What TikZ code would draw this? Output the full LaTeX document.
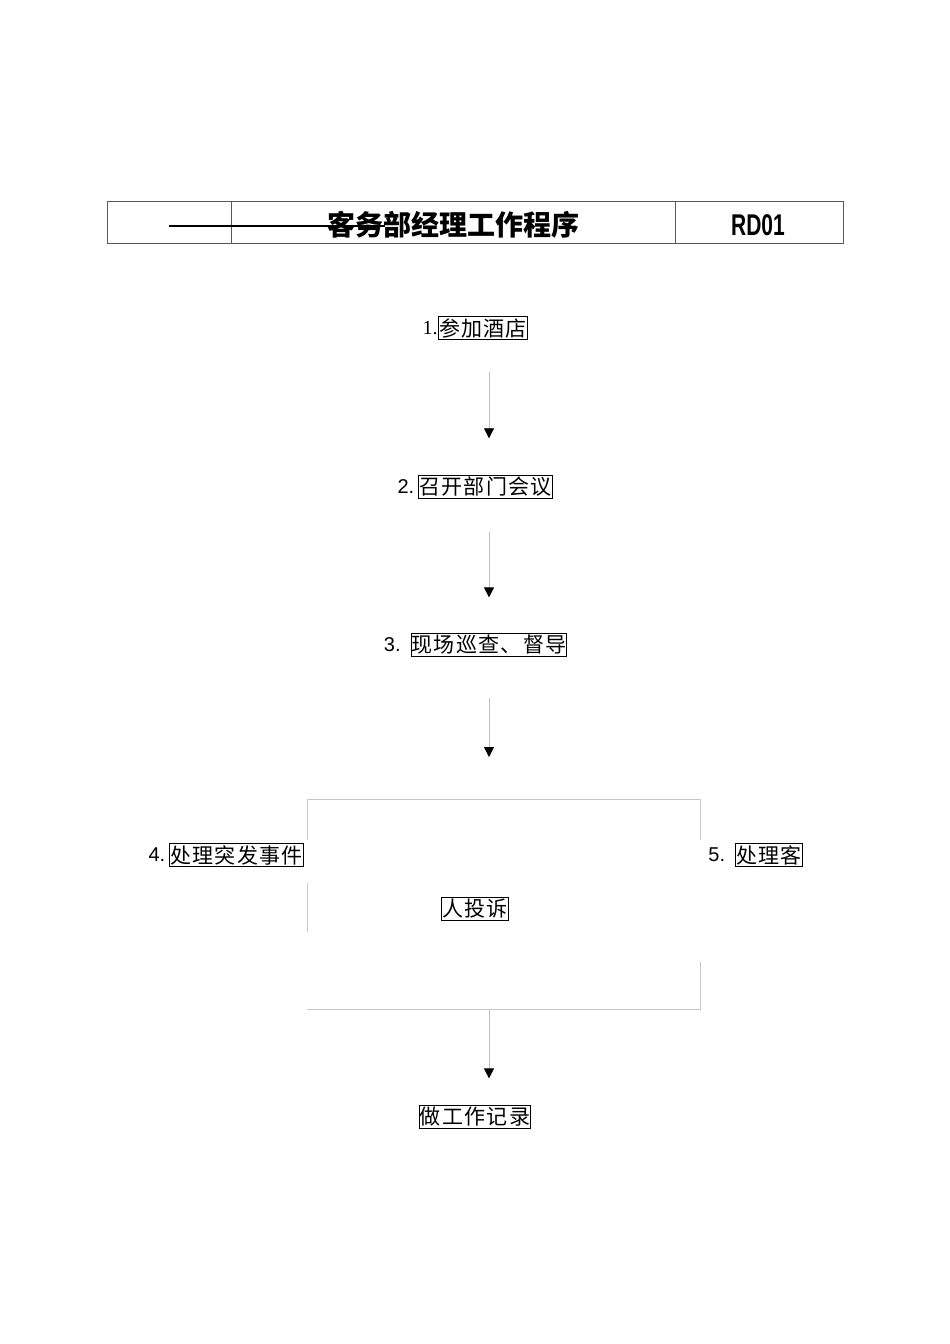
\documentclass[tikz,border=0pt]{standalone}
\usepackage{fontspec}
\setmainfont{Liberation Serif}
\newfontfamily\cjk{Noto Sans CJK SC}
\newfontfamily\cjkwide[LetterSpace=6]{Noto Sans CJK SC}
\newfontfamily\arialfont{Liberation Sans}
\newfontfamily\narrowfont[FakeStretch=0.7]{Liberation Sans}
\usepackage{tikz}
\usetikzlibrary{calc, positioning, arrows.meta}

\tikzset{
    stepbox/.style={draw, line width=0.8pt, inner xsep=0.5pt, inner ysep=1.5pt, font=\cjkwide\fontsize{21}{23}\selectfont},
    numlabel/.style={inner sep=0pt, font=\arialfont\fontsize{20}{22}\selectfont},
    flow/.style={draw=black!25, line width=0.8pt, -{Triangle[width=10pt, length=10pt, black]}},
    frameline/.style={draw=black!22, line width=1pt},
}

\begin{document}
\begin{tikzpicture}[x=1pt, y=-1pt]
    \useasboundingbox (0, 0) rectangle (950, 1344);
    % 表头
    \draw [black!65, line width=1pt] (107, 201) rectangle (843, 243);
    \draw [black!65, line width=1pt] (231, 201) -- (231, 243);
    \draw [black!65, line width=1pt] (675, 201) -- (675, 243);
    \node (title) at (453, 225) {\cjk\bfseries\fontsize{28}{30}\selectfont 客务部经理工作程序};
    \node (code) at (758, 225) {\narrowfont\bfseries\fontsize{30}{32}\selectfont RD01};
    \draw [line width=2pt] (169, 226) -- (385, 226);

    % 流程步骤
    \node [stepbox] (s1) at (483, 328) {参加酒店};
    \node [numlabel, font=\fontsize{20}{22}\selectfont, left=0.5pt of s1] (n1) {1.};
    \node [stepbox] (s2) at (485.5, 487) {召开部门会议};
    \node [numlabel, left=4pt of s2] (n2) {2.};
    \node [stepbox] (s3) at (489, 645) {现场巡查、督导};
    \node [numlabel, left=10pt of s3] (n3) {3.};
    \node [stepbox] (s4) at (236.5, 855) {处理突发事件};
    \node [numlabel, left=4pt of s4] (n4) {4.};
    \node [stepbox] (s5) at (769, 855) {处理客};
    \node [numlabel, left=10pt of s5] (n5) {5.};
    \node [stepbox] (s5b) at (475, 909) {人投诉};
    \node [stepbox] (s6) at (475, 1117) {做工作记录};

    % 大框
    \coordinate (fa) at (307, 799);
    \coordinate (fb) at (700, 799);
    \coordinate (fc) at (700, 1009);
    \coordinate (fd) at (307, 1009);
    \coordinate (fo) at (489, 1009);
    \draw [frameline] (fa) -- (fb) -- ++(0, 41);
    \draw [frameline] (fa) -- ++(0, 41);
    \draw [frameline] ($(fa) + (0, 84)$) -- ++(0, 49);
    \draw [frameline] ($(fb) + (0, 163)$) -- (fc) -- (fd);

    % 箭头
    \draw [flow, shorten <=32pt, shorten >=37pt] (s1.south -| s3) -- (s2.north -| s3);
    \draw [flow, shorten <=33pt, shorten >=36pt] (s2.south -| s3) -- (s3.north);
    \draw [flow, shorten <=41pt, shorten >=42pt] (s3.south) -- (fa -| s3);
    \draw [flow, shorten >=27pt] (fo) -- (s6.north -| fo);
\end{tikzpicture}
\end{document}
